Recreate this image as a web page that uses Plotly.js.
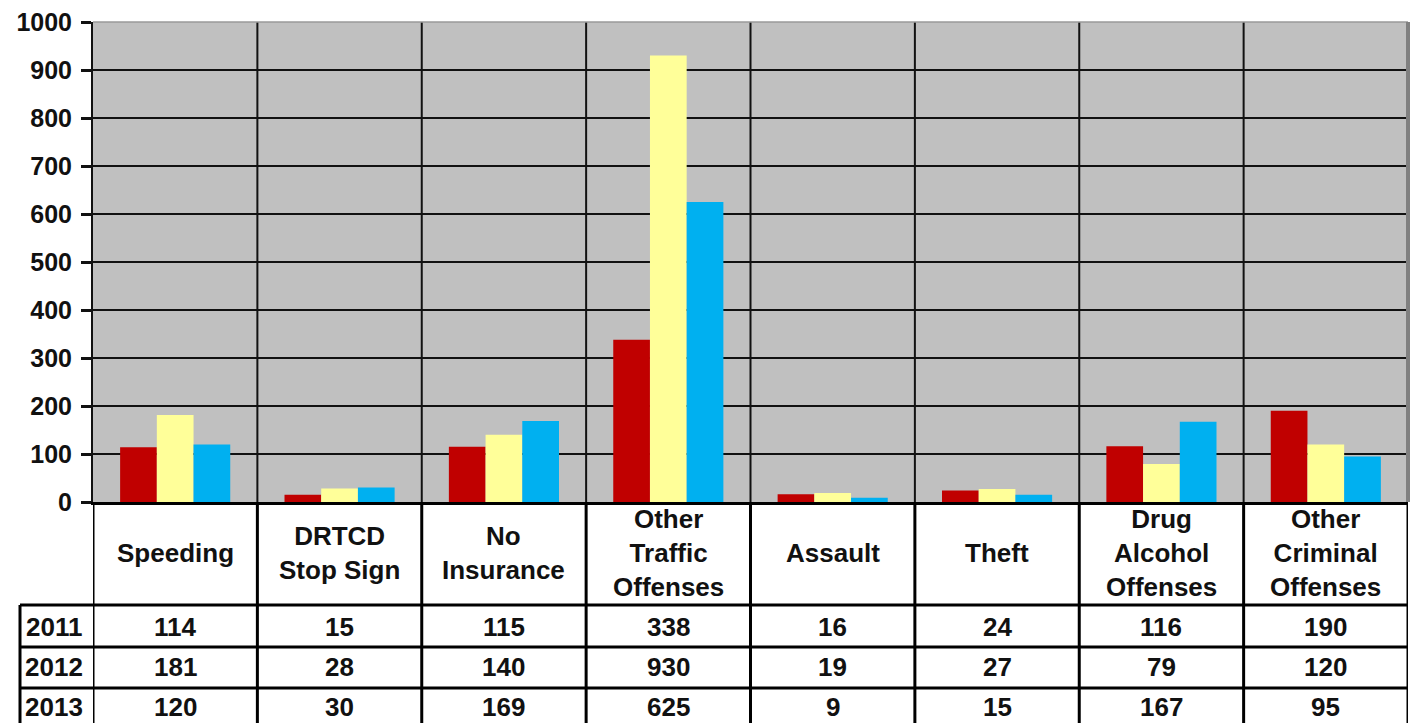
<!DOCTYPE html>
<html><head><meta charset="utf-8">
<script src="https://cdn.plot.ly/plotly-3.0.1.min.js"></script>
<style>html,body{margin:0;padding:0;background:#fff}#chart{width:1419px;height:723px}</style>
</head><body><div id="chart"></div>
<script>
const categories = ["Speeding","DRTCD\nStop Sign","No\nInsurance","Other\nTraffic\nOffenses","Assault","Theft","Drug\nAlcohol\nOffenses","Other\nCriminal\nOffenses"];
const years = ["2011","2012","2013"];
const values2011 = [114,15,115,338,16,24,116,190];
const values2012 = [181,28,140,930,19,27,79,120];
const values2013 = [120,30,169,625,9,15,167,95];
const yTickValues = [0,100,200,300,400,500,600,700,800,900,1000];

const series = [values2011, values2012, values2013];
const colors = ["#C00000", "#FFFF99", "#00B0F0"];
const xs = categories.map((c, i) => i);

const traces = series.map((vals, k) => ({
  type: "bar", x: xs, y: vals, name: years[k],
  marker: {color: colors[k], line: {width: 0}},
  hoverinfo: "skip"
}));

const PLOT_TOP = 22, PLOT_BOTTOM = 502, PLOT_H = PLOT_BOTTOM - PLOT_TOP;
const PLOT_LEFT = 93, PLOT_W = 1408 - 93;
const py = p => (PLOT_BOTTOM - p) / PLOT_H;
const px = p => (p - PLOT_LEFT) / PLOT_W;

const rowLines = [605, 647, 688];
const rowCenters = [626.5, 667, 707];
const N = categories.length;
const shapes = [];
// plot-area vertical category boundaries
for (let i = 1; i < N; i++) {
  shapes.push({type: "line", xref: "x", yref: "paper", x0: i - 0.5, x1: i - 0.5, y0: 0, y1: 1,
    line: {color: "#111", width: 2}});
}
// top and right borders of the plot
shapes.push({type: "line", xref: "paper", yref: "paper", x0: 0, x1: 1, y0: 1, y1: 1, line: {color: "#9a9a9a", width: 1.5}});
shapes.push({type: "line", xref: "paper", yref: "paper", x0: 1, x1: 1, y0: 0, y1: 1, line: {color: "#808080", width: 4}});
// table verticals
for (let i = 0; i <= N; i++) {
  shapes.push({type: "line", xref: "x", yref: "paper", x0: i - 0.5, x1: i - 0.5, y0: -0.6, y1: 0,
    line: {color: "#000", width: 3}});
}
// table horizontals
rowLines.forEach(r => shapes.push({type: "line", xref: "paper", yref: "paper", x0: px(20), x1: 1, y0: py(r), y1: py(r),
  line: {color: "#000", width: 3}}));
shapes.push({type: "line", xref: "paper", yref: "paper", x0: px(20), x1: px(20), y0: py(rowLines[0]), y1: -0.6,
  line: {color: "#000", width: 3}});

const tfont = {family: "Liberation Sans, Arial, sans-serif", size: 26, color: "#111", weight: "bold"};
const annotations = [];
categories.forEach((c, i) => annotations.push({xref: "x", yref: "paper", x: i, y: py(553), text: c.split("\n").join("<br>"),
  showarrow: false, font: tfont, xanchor: "center", yanchor: "middle"}));
series.forEach((vals, k) => {
  annotations.push({xref: "paper", yref: "paper", x: px(54), y: py(rowCenters[k]), text: years[k], showarrow: false,
    font: tfont, xanchor: "center", yanchor: "middle"});
  vals.forEach((v, i) => annotations.push({xref: "x", yref: "paper", x: i, y: py(rowCenters[k]), text: String(v),
    showarrow: false, font: tfont, xanchor: "center", yanchor: "middle"}));
});

const layout = {
  width: 1419, height: 723,
  margin: {l: 93, r: 11, t: 22, b: 221, pad: 0},
  paper_bgcolor: "#ffffff", plot_bgcolor: "#c0c0c0",
  barmode: "group", bargap: 0.33, bargroupgap: 0,
  showlegend: false,
  xaxis: {type: "linear", range: [-0.5, N - 0.5], showticklabels: false, ticks: "", showgrid: false, zeroline: false,
    showline: true, linecolor: "#000", linewidth: 3, fixedrange: true},
  yaxis: {range: [0, 1000], tickvals: yTickValues, ticktext: yTickValues.map(String), showgrid: true, gridcolor: "#111", gridwidth: 2,
    zeroline: false, showline: true, linecolor: "#111", linewidth: 2, ticks: "outside", ticklen: 10, tickwidth: 3, tickcolor: "#111",
    ticklabelstandoff: 4,
    tickfont: {family: "Liberation Sans, Arial, sans-serif", size: 25, color: "#111", weight: "bold"}, fixedrange: true},
  shapes: shapes, annotations: annotations
};
Plotly.newPlot("chart", traces, layout, {displayModeBar: false, staticPlot: true});
</script></body></html>
